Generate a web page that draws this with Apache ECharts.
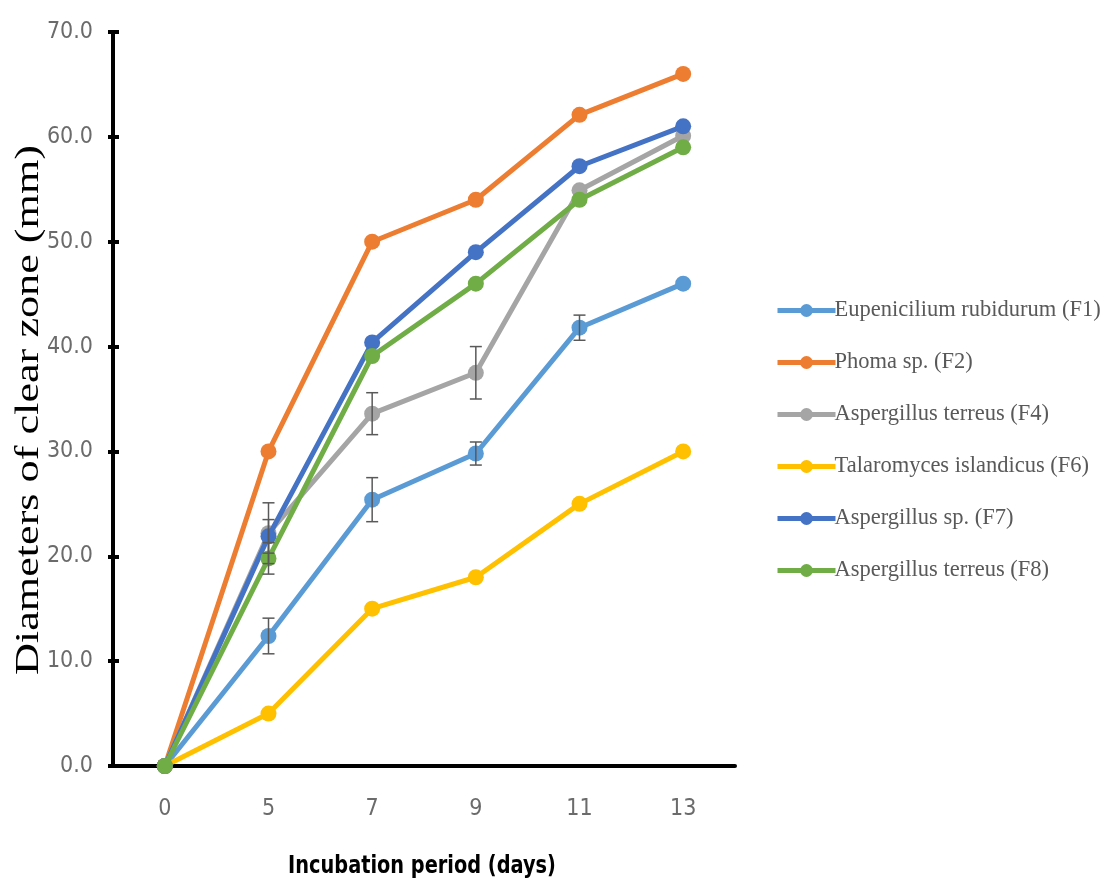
<!DOCTYPE html>
<html>
<head>
<meta charset="utf-8">
<script src="https://cdn.jsdelivr.net/npm/echarts@6/dist/echarts.min.js"></script>
<style>html,body{margin:0;padding:0;background:#fff}#c{width:1113px;height:883px}</style>
</head>
<body>
<div id="c"></div>
<script>
var days = ['0', '5', '7', '9', '11', '13'];
var names = ['Eupenicilium rubidurum (F1)', 'Phoma sp. (F2)', 'Aspergillus terreus (F4)', 'Talaromyces islandicus (F6)', 'Aspergillus sp. (F7)', 'Aspergillus terreus (F8)'];
var colors = ['#5B9BD5', '#ED7D31', '#A5A5A5', '#FFC000', '#4472C4', '#70AD47'];
var yTitle = 'Diameters of clear zone (mm)';
var xTitle = 'Incubation period (days)';

var F1 = [0, 12.4, 25.4, 29.8, 41.8, 46.0];
var F2 = [0, 30.0, 50.0, 54.0, 62.1, 66.0];
var F4 = [0, 22.2, 33.6, 37.5, 54.9, 60.1];
var F6 = [0, 5.0, 15.0, 18.0, 25.0, 30.0];
var F7 = [0, 21.9, 40.4, 49.0, 57.2, 61.0];
var F8 = [0, 19.8, 39.1, 46.0, 54.0, 59.0];

var F1err = [0, 1.7, 2.1, 1.1, 1.2, 0];
var F2err = [0, 0, 0, 0, 0, 0];
var F4err = [0, 2.9, 2.0, 2.5, 0, 0];
var F6err = [0, 0, 0, 0, 0, 0];
var F7err = [0, 1.6, 0, 0, 0, 0];
var F8err = [0, 1.5, 0, 0, 0, 0];

var yTicks = [0, 10, 20, 30, 40, 50, 60, 70];

var allData = [F1, F2, F4, F6, F7, F8];
var allErr = [F1err, F2err, F4err, F6err, F7err, F8err];

var labelFont = '"DejaVu Sans Condensed", "Liberation Sans Narrow", "DejaVu Sans", sans-serif';
var serifFont = '"Liberation Serif", "DejaVu Serif", serif';

var series = [];
allData.forEach(function (d, i) {
  series.push({
    name: names[i],
    type: 'line',
    data: d,
    symbol: 'circle',
    symbolSize: 16,
    lineStyle: { width: 5, color: colors[i] },
    itemStyle: { color: colors[i] },
    z: 3 + i
  });
});
allData.forEach(function (d, i) {
  var ed = [];
  d.forEach(function (v, j) { if (allErr[i][j] > 0) ed.push([j, v - allErr[i][j], v + allErr[i][j]]); });
  if (!ed.length) return;
  series.push({
    type: 'custom',
    data: ed,
    z: 20,
    silent: true,
    encode: { x: 0, y: [1, 2] },
    renderItem: function (params, api) {
      var x = api.value(0);
      var lo = api.coord([x, api.value(1)]);
      var hi = api.coord([x, api.value(2)]);
      var w = 6;
      var st = { stroke: '#595959', lineWidth: 1.5 };
      return {
        type: 'group',
        children: [
          { type: 'line', shape: { x1: lo[0], y1: lo[1], x2: hi[0], y2: hi[1] }, style: st },
          { type: 'line', shape: { x1: lo[0] - w, y1: lo[1], x2: lo[0] + w, y2: lo[1] }, style: st },
          { type: 'line', shape: { x1: hi[0] - w, y1: hi[1], x2: hi[0] + w, y2: hi[1] }, style: st }
        ]
      };
    }
  });
});

var chart = echarts.init(document.getElementById('c'));
chart.setOption({
  animation: false,
  backgroundColor: '#fff',
  grid: { left: 113, right: 378, top: 32, bottom: 117, containLabel: false },
  legend: {
    orient: 'vertical',
    left: 770,
    top: 294,
    itemWidth: 58,
    itemHeight: 16,
    itemGap: 29,
    data: names,
    lineStyle: { width: 5 },
    textStyle: { fontFamily: serifFont, fontSize: 22.5, color: '#595959', padding: [0, 0, 0, -6] }
  },
  graphic: [{
    type: 'text',
    x: 29, y: 410,
    rotation: Math.PI / 2,
    scaleX: 1.3,
    style: { text: yTitle, fontFamily: serifFont, fontSize: 34, fill: '#000', align: 'center', verticalAlign: 'middle' }
  }, {
    type: 'text',
    x: 422, y: 866,
    scaleX: 0.86,
    style: { text: xTitle, fontFamily: labelFont, fontWeight: 'bold', fontSize: 25, fill: '#000', align: 'center', verticalAlign: 'middle' }
  }],
  xAxis: {
    type: 'category',
    data: days,
    boundaryGap: true,
    axisLine: { lineStyle: { color: '#000', width: 4 } },
    axisTick: { alignWithLabel: true, length: 9, lineStyle: { color: '#000', width: 3 } },
    axisLabel: { margin: 32, fontFamily: labelFont, fontSize: 23, color: '#6b6b6b' },
    splitLine: { show: false }
  },
  yAxis: [{
    type: 'value',
    min: yTicks[0],
    max: yTicks[yTicks.length - 1],
    interval: 10,
    axisLine: { show: true, lineStyle: { color: '#000', width: 4 } },
    axisTick: { show: true, length: 5, lineStyle: { color: '#000', width: 4 } },
    axisLabel: { margin: 20, fontFamily: labelFont, fontSize: 23, color: '#6b6b6b', formatter: function (v) { return v.toFixed(1); } },
    splitLine: { show: false }
  }, {
    type: 'value',
    position: 'left',
    min: yTicks[0],
    max: yTicks[yTicks.length - 1],
    interval: 10,
    axisLine: { show: false },
    axisTick: { show: true, inside: true, length: 6, lineStyle: { color: '#000', width: 4 } },
    axisLabel: { show: false },
    splitLine: { show: false }
  }],
  series: series
});
</script>
</body>
</html>
